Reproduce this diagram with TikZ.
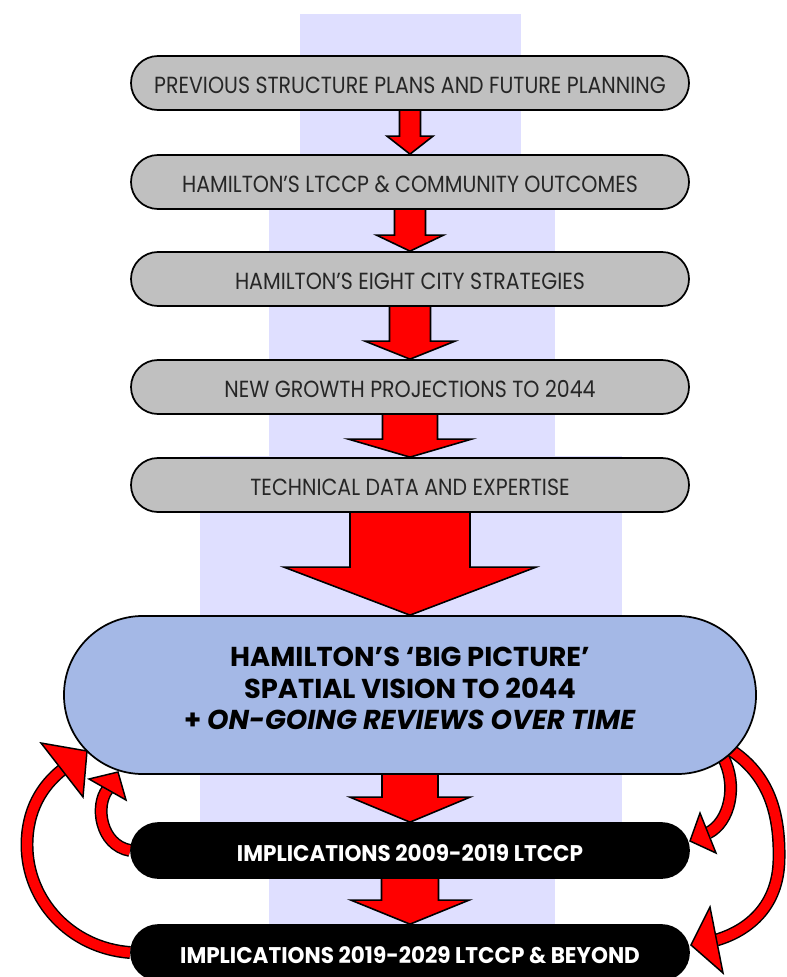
\documentclass[tikz,border=0pt]{standalone}
\usepackage{fontspec}
\newfontfamily\gfont{Poppins}[FakeStretch=0.88]
\newfontfamily\bfont{Poppins}
\newfontfamily\kfont{Poppins}[FakeStretch=0.95]
\usetikzlibrary{calc}
\definecolor{stripcol}{HTML}{DFDFFF}
\definecolor{boxgray}{HTML}{C0C0C0}
\definecolor{bigblue}{HTML}{A4B8E6}
\definecolor{arrred}{HTML}{FF0000}
\pgfdeclarelayer{bg}\pgfdeclarelayer{mid}\pgfsetlayers{bg,mid,main}
% #1 from node, #2 to node, #3 shaft half width, #4 head half width, #5 head length
\newcommand\blockarr[5]{%
  \draw[barrow] ($(#1.south)+(-#3,0)$) -- ($(#2.north)+(-#3,-#5)$) -- ($(#2.north)+(-#4,-#5)$)
    -- (#2.north) -- ($(#2.north)+(#4,-#5)$) -- ($(#2.north)+(#3,-#5)$) -- ($(#1.south)+(#3,0)$);}
\begin{document}
\begin{tikzpicture}[x=0.75pt,y=-0.75pt,
  graybox/.style={draw=black, line width=1.3pt, fill=boxgray, rounded corners=20.25pt,
    minimum width=418.5pt, minimum height=40.5pt, inner sep=0pt,
    font=\gfont\fontsize{17.5}{20}\selectfont, text=black!85, text height=15.2pt, text depth=0pt},
  blackbox/.style={draw=black, line width=1.3pt, fill=black, rounded corners=20.6pt,
    minimum width=418.5pt, minimum height=41.25pt, inner sep=0pt,
    font=\kfont\bfseries\fontsize{17}{20}\selectfont, text=white, text height=16.4pt, text depth=0pt},
  bigbox/.style={draw=black, line width=1.3pt, fill=bigblue, rounded corners=59pt,
    minimum width=519pt, minimum height=118.5pt, inner sep=0pt},
  bigtext/.style={align=center, inner sep=0pt, font=\bfont\bfseries\fontsize{20.5}{23.6}\selectfont},
  barrow/.style={draw=black, fill=arrred, line width=1.2pt, line join=miter},
  cshaft/.style={draw=black, line width=1.1pt, double=arrred, double distance=7.5pt},
  chead/.style={draw=black, fill=arrred, line width=1.1pt, line join=miter}]
\useasboundingbox (0,0) rectangle (787,977);

% boxes
\node[graybox] (b1) at (410,83) {PREVIOUS STRUCTURE PLANS AND FUTURE PLANNING};
\node[graybox] (b2) at (410,182) {HAMILTON’S LTCCP \& COMMUNITY OUTCOMES};
\node[graybox] (b3) at (410,279) {HAMILTON’S EIGHT CITY STRATEGIES};
\node[graybox] (b4) at (410,387) {NEW GROWTH PROJECTIONS TO 2044};
\node[graybox] (b5) at (410,485) {TECHNICAL DATA AND EXPERTISE};
\node[bigbox] (big) at (410,695) {};
\node[bigtext] (bigtxt) at (410,688.5) {HAMILTON’S ‘BIG PICTURE’\\SPATIAL VISION TO 2044\\+ \textit{ON-GOING REVIEWS OVER TIME}};
\node[blackbox] (k1) at (410,850.5) {IMPLICATIONS 2009-2019 LTCCP};
\node[blackbox] (k2) at (410,952.5) {IMPLICATIONS 2019-2029 LTCCP \& BEYOND};

% background strips
\begin{pgfonlayer}{bg}
  \fill[stripcol] (300,14) rectangle (521,157);
  \fill[stripcol] (269,155) rectangle (555,458);
  \fill[stripcol] (200,456) rectangle (622,850);
  \fill[stripcol] (269,850) rectangle (555,977);
\end{pgfonlayer}

\begin{pgfonlayer}{mid}
  \blockarr{b1}{b2}{10.5}{23}{18}
  \blockarr{b2}{b3}{15.5}{33.5}{16}
  \blockarr{b3}{b4}{20.5}{45}{18}
  \blockarr{b4}{b5}{27.5}{61.5}{18}
  \blockarr{b5}{big}{60}{126}{48}
  \blockarr{big}{k1}{28}{60}{25}
  \blockarr{k1}{k2}{28.5}{59}{24}

  % curved feedback arrows
  \coordinate (h1m) at (107.5,789.5);
  \coordinate (h1a) at (89,779);
  \coordinate (h1b) at (126,800);
  \coordinate (h1t) at (118,772);
  \draw[cshaft] (k1.west) .. controls (100,845) and (95,805) .. (h1m);
  \draw[chead] (h1a) -- (h1t) -- (h1b) -- cycle;

  \coordinate (h2m) at (62,770);
  \coordinate (h2a) at (41,743);
  \coordinate (h2b) at (83,797);
  \coordinate (h2t) at (87,751);
  \draw[cshaft] (k2.west) .. controls (70,948) and (27,900) .. (27,845)
     .. controls (27,810) and (42,786) .. (h2m);
  \draw[chead] (h2a) -- (h2t) -- (h2b) -- cycle;

  \coordinate (s3) at ($(big.south east)+(-34,-18)$);
  \coordinate (h3m) at (708,833);
  \coordinate (h3a) at (700,813);
  \coordinate (h3b) at (716,853);
  \coordinate (h3t) at (690,841);
  \draw[cshaft] (s3) .. controls (738,785) and (730,822) .. (h3m);
  \draw[chead] (h3a) -- (h3t) -- (h3b) -- cycle;

  \coordinate (s4) at ($(big.south east)+(-28,-26)$);
  \coordinate (h4m) at (716.5,940);
  \coordinate (h4a) at (710,907);
  \coordinate (h4b) at (723,973);
  \coordinate (h4t) at (691,945);
  \draw[cshaft] (s4) .. controls (770,775) and (780,815) .. (779,860)
     .. controls (778,905) and (750,930) .. (h4m);
  \draw[chead] (h4a) -- (h4t) -- (h4b) -- cycle;
\end{pgfonlayer}
\end{tikzpicture}
\end{document}
